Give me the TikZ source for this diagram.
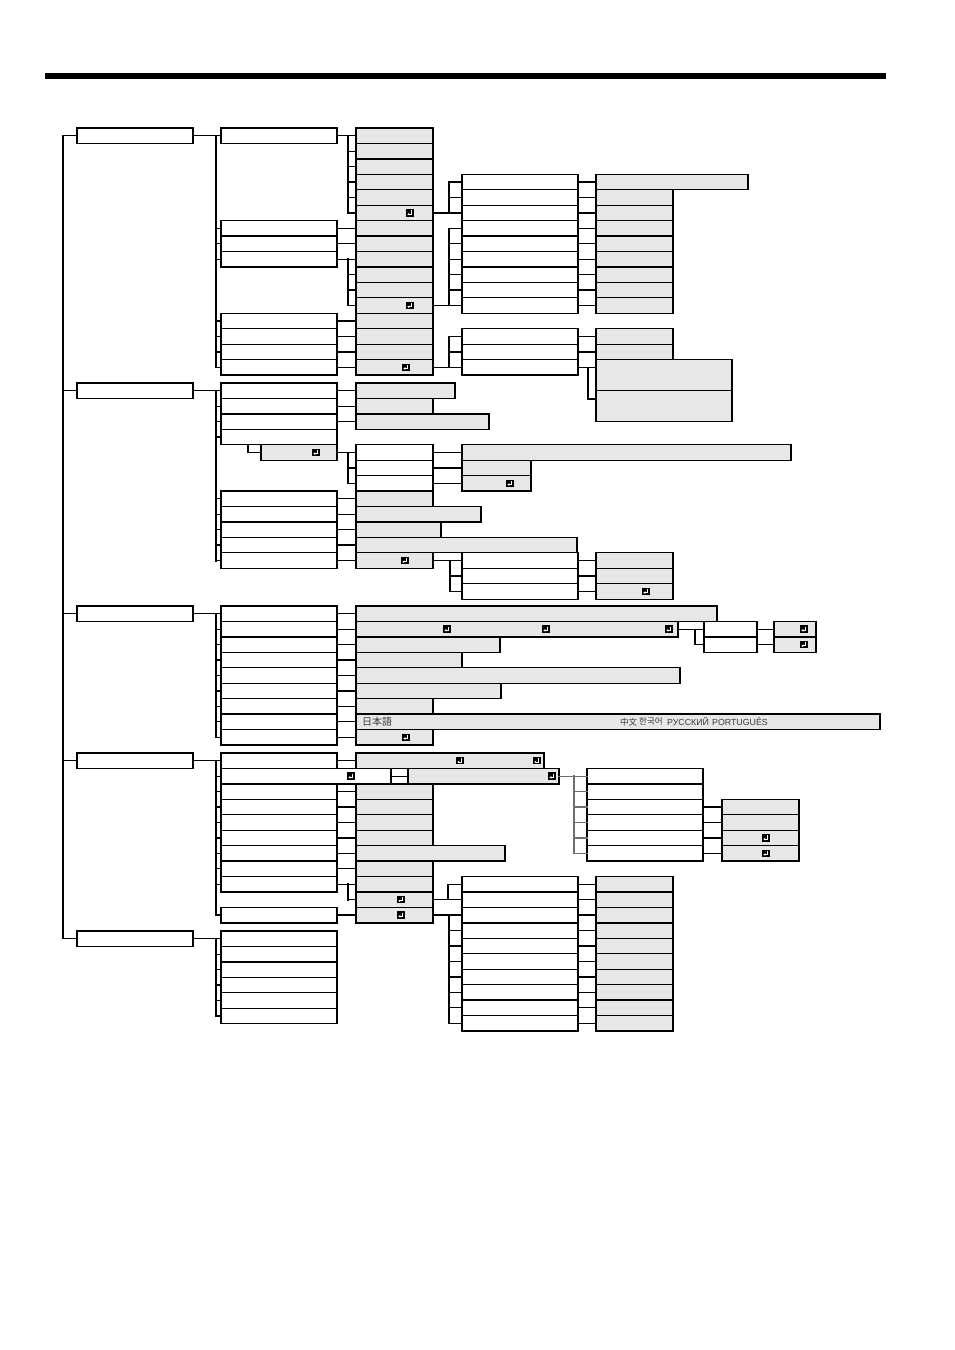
\documentclass[tikz,border=0pt]{standalone}
\usepackage{fontspec}
\setmainfont{Liberation Sans}
\newfontfamily\jpfont{Noto Sans CJK JP}
\newfontfamily\krfont{Noto Sans CJK KR}
\usetikzlibrary{arrows.meta,calc}
\definecolor{boxgray}{HTML}{E6E7E8}
\definecolor{txtgray}{HTML}{3A3A3A}
\definecolor{lngray}{HTML}{6E6E6E}
\def\rp{15.44}
\newcommand\Wbox[4]{\node[wb,minimum width=#4pt] (#1) at (#2,{#3}) {};}
\newcommand\Gbox[4]{\node[gb,minimum width=#4pt] (#1) at (#2,{#3}) {};}
\tikzset{
  bx/.style={draw=black,line width=1.3pt,inner sep=0pt,outer sep=0pt,minimum height=15.44pt,anchor=north west},
  wb/.style={bx,fill=white},
  gb/.style={bx,fill=boxgray},
  ln/.style={line width=1.3pt,line cap=rect},
  brk/.style={line width=1.7pt,line cap=rect},
  trunk/.style={line width=2.2pt,line cap=rect},
  lbl/.style={inner sep=0pt,anchor=west,text=txtgray},
  enter/.pic={
    \fill[black] (-3.7,-3.7) rectangle (3.7,3.7);
    \draw[white,line width=0.8pt,-{Stealth[length=2.2pt,width=2.6pt]}] (1.8,-2.5) -- (1.8,1.2) -- (-2.7,1.2);
  }
}
\begin{document}
\begin{tikzpicture}[x=1pt,y=-1pt]
\useasboundingbox (0,0) rectangle (954,1350);
\fill[black] (45,73) rectangle (886,79);

% ================= Section 1 =================
\Wbox{a1}{77}{128}{116}
\foreach \k in {0,6,7,8,12,13,14,15}{\Wbox{b1-\k}{221}{128+\k*\rp}{116}}
\foreach \k in {0,...,15}{\Gbox{c1-\k}{356}{128+\k*\rp}{77}}
\foreach \k in {3,...,11}{\Wbox{d1-\k}{462}{128+\k*\rp}{116}}
\foreach \k in {13,14,15}{\Wbox{d1-\k}{462}{128+\k*\rp}{116}}
\Gbox{e1-3}{596}{128+3*\rp}{152}
\foreach \k in {4,...,11}{\Gbox{e1-\k}{596}{128+\k*\rp}{77}}
\foreach \k in {13,14}{\Gbox{e1-\k}{596}{128+\k*\rp}{77}}
\node[gb,minimum width=136pt,minimum height=30.88pt] (e1-a) at (596,{128+15*\rp}) {};
\node[gb,minimum width=136pt,minimum height=30.88pt] (e1-b) at (596,{128+17*\rp}) {};
\pic at ($(c1-5.west)+(54,0)$) {enter};
\pic at ($(c1-11.west)+(54,0)$) {enter};
\pic at ($(c1-15.west)+(50,0)$) {enter};

\draw[ln] (a1.east) -- (b1-0.west);
\draw[trunk] ($(b1-0.west)+(-5,0)$) -- ($(b1-15.west)+(-5,0)$);
\foreach \k in {6,7,8,12,13,14,15}{\draw[ln] (b1-\k.west) -- ++(-5,0);}
\draw[ln] (b1-0.east) -- (c1-0.west);
\draw[brk] ($(c1-0.west)+(-8,0)$) -- ($(c1-5.west)+(-8,0)$);
\foreach \k in {1,...,5}{\draw[ln] (c1-\k.west) -- ++(-8,0);}
\foreach \k in {6,7,8,12,13,14,15}{\draw[ln] (b1-\k.east) -- (c1-\k.west);}
\draw[brk] ($(c1-8.west)+(-8,0)$) -- ($(c1-11.west)+(-8,0)$);
\foreach \k in {9,10,11}{\draw[ln] (c1-\k.west) -- ++(-8,0);}
\draw[ln] (c1-5.east) -- (d1-5.west);
\draw[brk] ($(d1-3.west)+(-13,0)$) -- ($(d1-5.west)+(-13,0)$);
\foreach \k in {3,4}{\draw[ln] (d1-\k.west) -- ++(-13,0);}
\draw[ln] (c1-11.east) -- (d1-11.west);
\draw[brk] ($(d1-6.west)+(-13,0)$) -- ($(d1-11.west)+(-13,0)$);
\foreach \k in {6,...,10}{\draw[ln] (d1-\k.west) -- ++(-13,0);}
\draw[ln] (c1-15.east) -- (d1-15.west);
\draw[brk] ($(d1-13.west)+(-13,0)$) -- ($(d1-15.west)+(-13,0)$);
\foreach \k in {13,14}{\draw[ln] (d1-\k.west) -- ++(-13,0);}
\foreach \k in {3,...,11}{\draw[ln] (d1-\k.east) -- (e1-\k.west);}
\foreach \k in {13,14}{\draw[ln] (d1-\k.east) -- (e1-\k.west);}
\draw[ln] (d1-15.east) -- (d1-15.east -| e1-a.west);
\draw[ln] ($(d1-15.east)+(10,0)$) |- ($(e1-b.north west)+(0,8.5)$);

% ================= Section 2 =================
\Wbox{a2}{77}{383}{116}
\foreach \k in {0,1,2,3,7,8,9,10,11}{\Wbox{b2-\k}{221}{383+\k*\rp}{116}}
\Gbox{b2-s}{261}{383+4*\rp}{76}
\Gbox{c2-0}{356}{383}{99}
\Gbox{c2-1}{356}{383+\rp}{77}
\Gbox{c2-2}{356}{383+2*\rp}{133}
\foreach \k in {4,5,6}{\Wbox{w2-\k}{356}{383+\k*\rp}{77}}
\Gbox{g2-4}{462}{383+4*\rp}{329}
\Gbox{g2-5}{462}{383+5*\rp}{69}
\Gbox{g2-6}{462}{383+6*\rp}{69}
\foreach \k/\w in {7/77,8/125,9/85,10/221,11/77}{\Gbox{c2-\k}{356}{383+\k*\rp}{\w}}
\foreach \k in {11,12,13}{\Wbox{d2-\k}{462}{383+\k*\rp}{116}\Gbox{e2-\k}{596}{383+\k*\rp}{77}}
\pic at ($(b2-s.west)+(55,0)$) {enter};
\pic at ($(g2-6.west)+(48,0)$) {enter};
\pic at ($(c2-11.west)+(49,0)$) {enter};
\pic at ($(e2-13.west)+(50,0)$) {enter};

\draw[ln] (a2.east) -- (b2-0.west);
\draw[trunk] ($(b2-0.west)+(-5,0)$) -- ($(b2-11.west)+(-5,0)$);
\foreach \k in {1,2,3,7,8,9,10,11}{\draw[ln] (b2-\k.west) -- ++(-5,0);}
\foreach \k in {0,1,2,7,8,9,10,11}{\draw[ln] (b2-\k.east) -- (c2-\k.west);}
\draw[ln] ($(b2-3.south west)+(27,0)$) |- (b2-s.west);
\draw[brk] (b2-s.east) -- (w2-4.west);
\draw[brk] ($(w2-4.west)+(-8,0)$) -- ($(w2-6.west)+(-8,0)$);
\foreach \k in {5,6}{\draw[ln] (w2-\k.west) -- ++(-8,0);}
\foreach \k in {4,5,6}{\draw[ln] (w2-\k.east) -- (g2-\k.west);}
\draw[brk] (c2-11.east) -- (d2-11.west);
\draw[brk] ($(d2-11.west)+(-12,0)$) -- ($(d2-13.west)+(-12,0)$);
\foreach \k in {12,13}{\draw[ln] (d2-\k.west) -- ++(-12,0);}
\foreach \k in {11,12,13}{\draw[ln] (d2-\k.east) -- (e2-\k.west);}

% ================= Section 3 =================
\Wbox{a3}{77}{606}{116}
\foreach \k in {0,...,8}{\Wbox{b3-\k}{221}{606+\k*\rp}{116}}
\foreach \k/\w in {0/361,1/322,2/144,3/106,4/324,5/145,6/77,7/524,8/77}{\Gbox{c3-\k}{356}{606+\k*\rp}{\w}}
\foreach \k in {1,2}{\Wbox{d3-\k}{704}{606+\k*\rp}{53}\Gbox{e3-\k}{774}{606+\k*\rp}{42}}
\pic at ($(c3-1.west)+(91,0)$) {enter};
\pic at ($(c3-1.west)+(190,0)$) {enter};
\pic at ($(c3-1.west)+(313,0)$) {enter};
\pic at ($(c3-8.west)+(50,0)$) {enter};
\pic at ($(e3-1.west)+(30,0)$) {enter};
\pic at ($(e3-2.west)+(30,0)$) {enter};
\node[lbl,font=\jpfont\fontsize{10}{11}\selectfont] (t-ja) at ($(c3-7.west)+(6,0)$) {日本語};
\node[lbl,font=\jpfont\fontsize{8.5}{10}\selectfont] (t-zh) at ($(c3-7.west)+(264,0)$) {中文};
\node[lbl,font=\krfont\fontsize{8.5}{10}\selectfont] (t-ko) at ($(c3-7.west)+(283,0)$) {한국어};
\node[lbl,font=\fontsize{8.8}{10}\selectfont] (t-ru) at ($(c3-7.west)+(311,0)$) {РУССКИЙ};
\node[lbl,font=\fontsize{8.8}{10}\selectfont] (t-pt) at ($(c3-7.west)+(356,0)$) {PORTUGUÊS};

\draw[ln] (a3.east) -- (b3-0.west);
\draw[trunk] ($(b3-0.west)+(-5,0)$) -- ($(b3-8.west)+(-5,0)$);
\foreach \k in {1,...,8}{\draw[ln] (b3-\k.west) -- ++(-5,0);}
\foreach \k in {0,...,8}{\draw[ln] (b3-\k.east) -- (c3-\k.west);}
\draw[ln] (c3-1.east) -- (d3-1.west);
\draw[ln] ($(d3-1.west)+(-9,0)$) -- ($(d3-2.west)+(-9,0)$);
\draw[ln] (d3-2.west) -- ++(-9,0);
\foreach \k in {1,2}{\draw[ln] (d3-\k.east) -- (e3-\k.west);}

% ================= Section 4 =================
\Wbox{a4}{77}{753}{116}
\foreach \k in {0,2,3,4,5,6,7,8,10}{\Wbox{b4-\k}{221}{753+\k*\rp}{116}}
\Wbox{b4-1}{221}{753+\rp}{170}
\Gbox{c4-0}{356}{753}{188}
\Gbox{c4-1}{408}{753+\rp}{151}
\foreach \k/\w in {2/77,3/77,4/77,5/77,6/149,7/77,8/77,9/77,10/77}{\Gbox{c4-\k}{356}{753+\k*\rp}{\w}}
\foreach \k in {1,...,6}{\Wbox{x4-\k}{587}{753+\k*\rp}{116}}
\foreach \k in {3,...,6}{\Gbox{y4-\k}{722}{753+\k*\rp}{77}}
\foreach \k in {8,...,17}{\Wbox{d4-\k}{462}{753+\k*\rp}{116}\Gbox{e4-\k}{596}{753+\k*\rp}{77}}
\pic at ($(c4-0.west)+(104,0)$) {enter};
\pic at ($(c4-0.west)+(181,0)$) {enter};
\pic at ($(b4-1.west)+(130,0)$) {enter};
\pic at ($(c4-1.west)+(144,0)$) {enter};
\pic at ($(c4-9.west)+(45,0)$) {enter};
\pic at ($(c4-10.west)+(45,0)$) {enter};
\pic at ($(y4-5.west)+(44,0)$) {enter};
\pic at ($(y4-6.west)+(44,0)$) {enter};

\draw[ln] (a4.east) -- (b4-0.west);
\draw[trunk] ($(b4-0.west)+(-5,0)$) -- ($(b4-10.west)+(-5,0)$);
\foreach \k in {1,...,8,10}{\draw[ln] (b4-\k.west) -- ++(-5,0);}
\foreach \k in {0,1,2,3,4,5,6,7,8,10}{\draw[ln] (b4-\k.east) -- (c4-\k.west);}
\draw[brk] ($(c4-8.west)+(-8,0)$) -- ($(c4-9.west)+(-8,0)$);
\draw[ln] (c4-9.west) -- ++(-8,0);
\draw[ln,lngray] (c4-1.east) -- (x4-1.west);
\draw[brk,lngray] ($(x4-1.west)+(-13,0)$) -- ($(x4-6.west)+(-13,0)$);
\foreach \k in {2,...,6}{\draw[ln,lngray] (x4-\k.west) -- ++(-13,0);}
\foreach \k in {3,...,6}{\draw[ln] (x4-\k.east) -- (y4-\k.west);}
\draw[ln] (c4-9.east) -- (d4-9.west);
\draw[ln] ($(d4-8.west)+(-14,0)$) -- ($(d4-9.west)+(-14,0)$);
\draw[ln] (d4-8.west) -- ++(-14,0);
\draw[ln] (c4-10.east) -- (d4-10.west);
\draw[brk] ($(d4-10.west)+(-13,0)$) -- ($(d4-17.west)+(-13,0)$);
\foreach \k in {11,...,17}{\draw[ln] (d4-\k.west) -- ++(-13,0);}
\foreach \k in {8,...,17}{\draw[ln] (d4-\k.east) -- (e4-\k.west);}

% ================= Section 5 =================
\Wbox{a5}{77}{931}{116}
\foreach \k in {0,...,5}{\Wbox{b5-\k}{221}{931+\k*\rp}{116}}
\draw[ln] (a5.east) -- (b5-0.west);
\draw[trunk] ($(b5-0.west)+(-5,0)$) -- ($(b5-5.west)+(-5,0)$);
\foreach \k in {1,...,5}{\draw[ln] (b5-\k.west) -- ++(-5,0);}

% ================= Left trunk =================
\draw[ln] ($(a1.west)+(-14,0)$) -- ($(a5.west)+(-14,0)$);
\foreach \n in {a1,a2,a3,a4,a5}{\draw[ln] (\n.west) -- ++(-14,0);}
\end{tikzpicture}
\end{document}
